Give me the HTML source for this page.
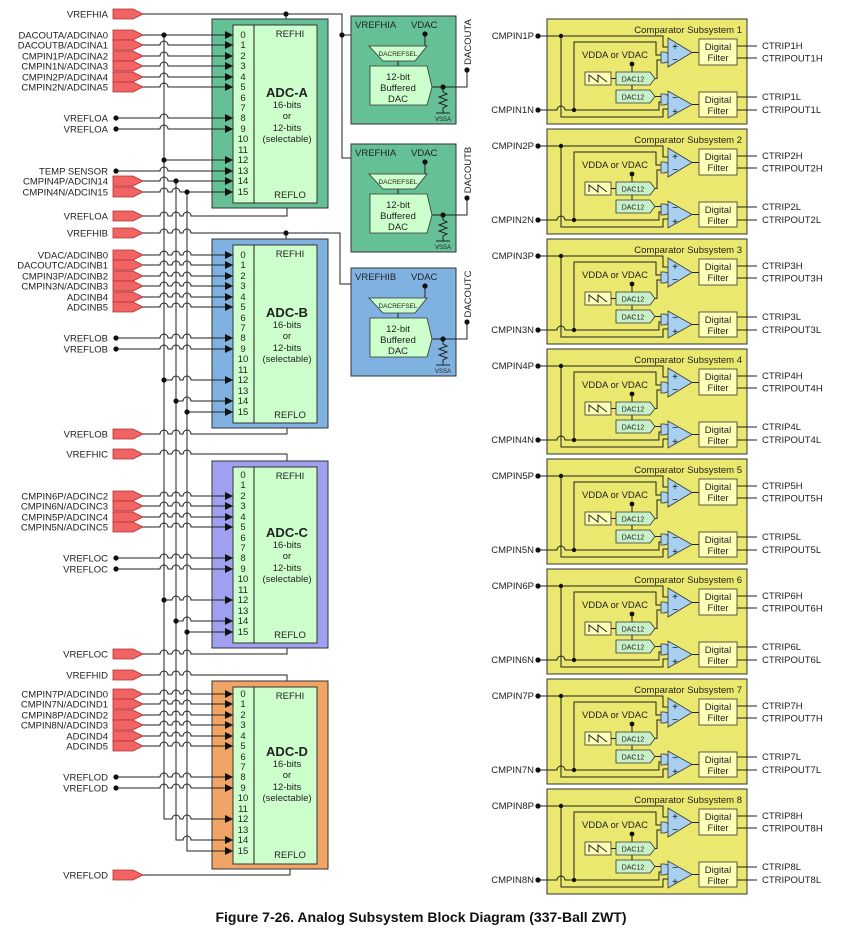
<!DOCTYPE html>
<html><head><meta charset="utf-8"><style>
html,body{margin:0;padding:0;background:#fff;}
svg{display:block;font-family:"Liberation Sans",Arial,sans-serif;}
.l{font-size:9.5px;fill:#222;text-anchor:end}
.n{font-size:9.5px;fill:#222;text-anchor:middle}
.t{font-size:9.5px;fill:#222}
.w{fill:none;stroke:#222;stroke-width:1}
</style></head><body>
<svg width="852" height="938" viewBox="0 0 852 938" xmlns="http://www.w3.org/2000/svg">
<defs>
<marker id="ar" viewBox="0 0 8 8" refX="8" refY="4" markerWidth="8" markerHeight="8" markerUnits="userSpaceOnUse" orient="auto"><path d="M0 0L8 4L0 8z" fill="#111"/></marker>
<polygon id="pin" points="113,-5 133,-5 143,0 133,5 113,5" fill="#f26363" stroke="#b03030" stroke-width="0.8"/>
<circle id="d" r="2.6" fill="#111"/>
<g id="cmp">
<rect x="547" y="19" width="200" height="105" fill="#ebe86f" stroke="#333"/>
<path class="w" d="M538 36H663V47H668M561 36V117H663V109H668M538 110H557a4,4 0 0 1 8,0H659V102H661M574 110V42H656V55H661M655 78.5H657V60H661M655 96.5H661M692 52.5H699M692 104.5H699M737 46H757M737 58H757M737 97H757M737 110H757M632 64V72M632 85V90M611 78.5H616"/>
<circle cx="538" cy="36" r="2.6" fill="#111"/><circle cx="561" cy="36" r="2.2" fill="#111"/>
<circle cx="538" cy="110" r="2.6" fill="#111"/><circle cx="574" cy="110" r="2.2" fill="#111"/>
<circle cx="632" cy="64" r="2.4" fill="#111"/>
<path d="M661 52H664a5.5,5.5 0 0 1 0,11H661Z" fill="#a8d0f0" stroke="#333" stroke-width="0.8"/>
<path d="M661 94H664a5.5,5.5 0 0 1 0,11H661Z" fill="#a8d0f0" stroke="#333" stroke-width="0.8"/>
<polygon points="668,38 668,67 692,52.5" fill="#a8d0f0" stroke="#333" stroke-width="0.8"/>
<polygon points="668,91 668,118 692,104.5" fill="#a8d0f0" stroke="#333" stroke-width="0.8"/>
<rect x="699" y="39" width="38" height="26" fill="#ffffb8" stroke="#333" stroke-width="0.8"/>
<rect x="699" y="92" width="38" height="25" fill="#ffffb8" stroke="#333" stroke-width="0.8"/>
<rect x="585" y="72" width="26" height="13" fill="#ffffb8" stroke="#333" stroke-width="0.8"/>
<path class="w" d="M589 82V75L598 82V75L607 82"/>
<polygon points="616,72 650,72 655,78.5 650,85 616,85" fill="#c8f0c8" stroke="#333" stroke-width="0.8"/>
<polygon points="616,90 650,90 655,96.5 650,103 616,103" fill="#c8f0c8" stroke="#333" stroke-width="0.8"/>
</g>
</defs>

<!-- ADC boxes -->
<rect x="212" y="19" width="116" height="189" fill="#66c095" stroke="#333"/>
<rect x="212" y="239" width="116" height="189" fill="#7fb2e0" stroke="#333"/>
<rect x="212" y="461" width="116" height="187" fill="#a0a0f0" stroke="#333"/>
<rect x="212" y="681" width="116" height="188" fill="#f0a465" stroke="#333"/>
<g fill="#ccffcc" stroke="#333">
<rect x="233" y="25" width="84" height="178"/><rect x="233" y="245" width="84" height="178"/>
<rect x="233" y="467" width="84" height="176"/><rect x="233" y="687" width="84" height="177"/>
</g>
<path class="w" d="M254 25V203M254 245V423M254 467V643M254 687V864"/>

<!-- ADC texts -->
<g class="n">
<text x="290" y="37">REFHI</text><text x="290" y="198">REFLO</text>
<text x="290" y="257">REFHI</text><text x="290" y="418">REFLO</text>
<text x="290" y="479">REFHI</text><text x="290" y="638">REFLO</text>
<text x="290" y="699">REFHI</text><text x="290" y="858">REFLO</text>
</g>
<g class="n">
<text x="287" y="97" style="font-size:13px;font-weight:bold">ADC-A</text><text x="287" y="108">16-bits</text><text x="287" y="119">or</text><text x="287" y="131">12-bits</text><text x="287" y="142">(selectable)</text>
<text x="287" y="317" style="font-size:13px;font-weight:bold">ADC-B</text><text x="287" y="328">16-bits</text><text x="287" y="339">or</text><text x="287" y="351">12-bits</text><text x="287" y="362">(selectable)</text>
<text x="287" y="537" style="font-size:13px;font-weight:bold">ADC-C</text><text x="287" y="548">16-bits</text><text x="287" y="559">or</text><text x="287" y="571">12-bits</text><text x="287" y="582">(selectable)</text>
<text x="287" y="756" style="font-size:13px;font-weight:bold">ADC-D</text><text x="287" y="767">16-bits</text><text x="287" y="778">or</text><text x="287" y="790">12-bits</text><text x="287" y="801">(selectable)</text>
</g>
<g class="n">
<text x="243" y="38">0</text><text x="243" y="48">1</text><text x="243" y="59">2</text><text x="243" y="69">3</text><text x="243" y="80">4</text><text x="243" y="90">5</text><text x="243" y="101">6</text><text x="243" y="111">7</text><text x="243" y="121">8</text><text x="243" y="132">9</text><text x="243" y="142">10</text><text x="243" y="153">11</text><text x="243" y="163">12</text><text x="243" y="174">13</text><text x="243" y="184">14</text><text x="243" y="195">15</text>
<text x="243" y="258">0</text><text x="243" y="268">1</text><text x="243" y="279">2</text><text x="243" y="289">3</text><text x="243" y="300">4</text><text x="243" y="310">5</text><text x="243" y="321">6</text><text x="243" y="331">7</text><text x="243" y="341">8</text><text x="243" y="352">9</text><text x="243" y="362">10</text><text x="243" y="373">11</text><text x="243" y="383">12</text><text x="243" y="394">13</text><text x="243" y="404">14</text><text x="243" y="415">15</text>
<text x="243" y="478">0</text><text x="243" y="488">1</text><text x="243" y="499">2</text><text x="243" y="509">3</text><text x="243" y="520">4</text><text x="243" y="530">5</text><text x="243" y="541">6</text><text x="243" y="551">7</text><text x="243" y="561">8</text><text x="243" y="572">9</text><text x="243" y="582">10</text><text x="243" y="593">11</text><text x="243" y="603">12</text><text x="243" y="614">13</text><text x="243" y="624">14</text><text x="243" y="635">15</text>
<text x="243" y="697">0</text><text x="243" y="707">1</text><text x="243" y="718">2</text><text x="243" y="728">3</text><text x="243" y="739">4</text><text x="243" y="749">5</text><text x="243" y="760">6</text><text x="243" y="770">7</text><text x="243" y="780">8</text><text x="243" y="791">9</text><text x="243" y="801">10</text><text x="243" y="812">11</text><text x="243" y="822">12</text><text x="243" y="833">13</text><text x="243" y="843">14</text><text x="243" y="854">15</text>
</g>

<!-- pins -->
<g>
<use href="#pin" y="14"/><use href="#pin" y="35"/><use href="#pin" y="45"/><use href="#pin" y="56"/><use href="#pin" y="66"/><use href="#pin" y="77"/><use href="#pin" y="87"/><use href="#pin" y="181"/><use href="#pin" y="192"/><use href="#pin" y="216"/>
<use href="#pin" y="233"/><use href="#pin" y="255"/><use href="#pin" y="265"/><use href="#pin" y="276"/><use href="#pin" y="286"/><use href="#pin" y="297"/><use href="#pin" y="307"/><use href="#pin" y="434"/>
<use href="#pin" y="454"/><use href="#pin" y="496"/><use href="#pin" y="506"/><use href="#pin" y="517"/><use href="#pin" y="527"/><use href="#pin" y="654"/>
<use href="#pin" y="675"/><use href="#pin" y="694"/><use href="#pin" y="704"/><use href="#pin" y="715"/><use href="#pin" y="725"/><use href="#pin" y="736"/><use href="#pin" y="746"/><use href="#pin" y="875"/>
</g>
<g class="l">
<text x="108" y="17.5">VREFHIA</text>
<text x="108" y="38.5">DACOUTA/ADCINA0</text><text x="108" y="48.5">DACOUTB/ADCINA1</text><text x="108" y="59.5">CMPIN1P/ADCINA2</text><text x="108" y="69.5">CMPIN1N/ADCINA3</text><text x="108" y="80.5">CMPIN2P/ADCINA4</text><text x="108" y="90.5">CMPIN2N/ADCINA5</text>
<text x="108" y="121.5">VREFLOA</text><text x="108" y="132.5">VREFLOA</text><text x="108" y="174.5">TEMP SENSOR</text>
<text x="108" y="184.5">CMPIN4P/ADCIN14</text><text x="108" y="195.5">CMPIN4N/ADCIN15</text><text x="108" y="219.5">VREFLOA</text>
<text x="108" y="236.5">VREFHIB</text>
<text x="108" y="258.5">VDAC/ADCINB0</text><text x="108" y="268.5">DACOUTC/ADCINB1</text><text x="108" y="279.5">CMPIN3P/ADCINB2</text><text x="108" y="289.5">CMPIN3N/ADCINB3</text><text x="108" y="300.5">ADCINB4</text><text x="108" y="310.5">ADCINB5</text>
<text x="108" y="341.5">VREFLOB</text><text x="108" y="352.5">VREFLOB</text><text x="108" y="437.5">VREFLOB</text>
<text x="108" y="457.5">VREFHIC</text>
<text x="108" y="499.5">CMPIN6P/ADCINC2</text><text x="108" y="509.5">CMPIN6N/ADCINC3</text><text x="108" y="520.5">CMPIN5P/ADCINC4</text><text x="108" y="530.5">CMPIN5N/ADCINC5</text>
<text x="108" y="561.5">VREFLOC</text><text x="108" y="572.5">VREFLOC</text><text x="108" y="657.5">VREFLOC</text>
<text x="108" y="678.5">VREFHID</text>
<text x="108" y="697.5">CMPIN7P/ADCIND0</text><text x="108" y="707.5">CMPIN7N/ADCIND1</text><text x="108" y="718.5">CMPIN8P/ADCIND2</text><text x="108" y="728.5">CMPIN8N/ADCIND3</text><text x="108" y="739.5">ADCIND4</text><text x="108" y="749.5">ADCIND5</text>
<text x="108" y="780.5">VREFLOD</text><text x="108" y="791.5">VREFLOD</text><text x="108" y="878.5">VREFLOD</text>
</g>

<!-- wires with arrows -->
<g class="w" marker-end="url(#ar)">
<path d="M143 35H233"/>
<path d="M143 45H160a4,4 0 0 1 8,0H233"/><path d="M143 56H160a4,4 0 0 1 8,0H233"/><path d="M143 66H160a4,4 0 0 1 8,0H233"/><path d="M143 77H160a4,4 0 0 1 8,0H233"/><path d="M143 87H160a4,4 0 0 1 8,0H233"/>
<path d="M116 118H160a4,4 0 0 1 8,0H233"/><path d="M116 129H160a4,4 0 0 1 8,0H233"/>
<path d="M164 160H233"/><path d="M116 171H160a4,4 0 0 1 8,0H233"/>
<path d="M143 181H160a4,4 0 0 1 8,0H233"/><path d="M143 192H160a4,4 0 0 1 8,0H172a4,4 0 0 1 8,0H233"/>

<path d="M143 255H160a4,4 0 0 1 8,0H172a4,4 0 0 1 8,0H183a4,4 0 0 1 8,0H233"/>
<path d="M143 265H160a4,4 0 0 1 8,0H172a4,4 0 0 1 8,0H183a4,4 0 0 1 8,0H233"/>
<path d="M143 276H160a4,4 0 0 1 8,0H172a4,4 0 0 1 8,0H183a4,4 0 0 1 8,0H233"/>
<path d="M143 286H160a4,4 0 0 1 8,0H172a4,4 0 0 1 8,0H183a4,4 0 0 1 8,0H233"/>
<path d="M143 297H160a4,4 0 0 1 8,0H172a4,4 0 0 1 8,0H183a4,4 0 0 1 8,0H233"/>
<path d="M143 307H160a4,4 0 0 1 8,0H172a4,4 0 0 1 8,0H183a4,4 0 0 1 8,0H233"/>
<path d="M116 338H160a4,4 0 0 1 8,0H172a4,4 0 0 1 8,0H183a4,4 0 0 1 8,0H233"/>
<path d="M116 349H160a4,4 0 0 1 8,0H172a4,4 0 0 1 8,0H183a4,4 0 0 1 8,0H233"/>
<path d="M164 380H172a4,4 0 0 1 8,0H183a4,4 0 0 1 8,0H233"/>
<path d="M176 401H183a4,4 0 0 1 8,0H233"/><path d="M187 412H233"/>

<path d="M143 496H160a4,4 0 0 1 8,0H172a4,4 0 0 1 8,0H183a4,4 0 0 1 8,0H233"/>
<path d="M143 506H160a4,4 0 0 1 8,0H172a4,4 0 0 1 8,0H183a4,4 0 0 1 8,0H233"/>
<path d="M143 517H160a4,4 0 0 1 8,0H172a4,4 0 0 1 8,0H183a4,4 0 0 1 8,0H233"/>
<path d="M143 527H160a4,4 0 0 1 8,0H172a4,4 0 0 1 8,0H183a4,4 0 0 1 8,0H233"/>
<path d="M116 558H160a4,4 0 0 1 8,0H172a4,4 0 0 1 8,0H183a4,4 0 0 1 8,0H233"/>
<path d="M116 569H160a4,4 0 0 1 8,0H172a4,4 0 0 1 8,0H183a4,4 0 0 1 8,0H233"/>
<path d="M164 600H172a4,4 0 0 1 8,0H183a4,4 0 0 1 8,0H233"/>
<path d="M176 621H183a4,4 0 0 1 8,0H233"/><path d="M187 632H233"/>

<path d="M143 694H160a4,4 0 0 1 8,0H172a4,4 0 0 1 8,0H183a4,4 0 0 1 8,0H233"/>
<path d="M143 704H160a4,4 0 0 1 8,0H172a4,4 0 0 1 8,0H183a4,4 0 0 1 8,0H233"/>
<path d="M143 715H160a4,4 0 0 1 8,0H172a4,4 0 0 1 8,0H183a4,4 0 0 1 8,0H233"/>
<path d="M143 725H160a4,4 0 0 1 8,0H172a4,4 0 0 1 8,0H183a4,4 0 0 1 8,0H233"/>
<path d="M143 736H160a4,4 0 0 1 8,0H172a4,4 0 0 1 8,0H183a4,4 0 0 1 8,0H233"/>
<path d="M143 746H160a4,4 0 0 1 8,0H172a4,4 0 0 1 8,0H183a4,4 0 0 1 8,0H233"/>
<path d="M116 777H160a4,4 0 0 1 8,0H172a4,4 0 0 1 8,0H183a4,4 0 0 1 8,0H233"/>
<path d="M116 788H160a4,4 0 0 1 8,0H172a4,4 0 0 1 8,0H183a4,4 0 0 1 8,0H233"/>
<path d="M164 35V819H172a4,4 0 0 1 8,0H183a4,4 0 0 1 8,0H233"/>
<path d="M176 181V840H183a4,4 0 0 1 8,0H233"/>
<path d="M187 192V851H233"/>
</g>
<!-- ref wires -->
<g class="w">
<path d="M143 14H342V158H385V174M286 14V19M342 35H385V46"/>
<path d="M143 216H160a4,4 0 0 1 8,0H172a4,4 0 0 1 8,0H183a4,4 0 0 1 8,0H287V208"/>
<path d="M143 233H160a4,4 0 0 1 8,0H172a4,4 0 0 1 8,0H183a4,4 0 0 1 8,0H340V284H385V298M286 233V239"/>
<path d="M143 434H160a4,4 0 0 1 8,0H172a4,4 0 0 1 8,0H183a4,4 0 0 1 8,0H287V428"/>
<path d="M143 454H160a4,4 0 0 1 8,0H172a4,4 0 0 1 8,0H183a4,4 0 0 1 8,0H287V461"/>
<path d="M143 654H160a4,4 0 0 1 8,0H172a4,4 0 0 1 8,0H183a4,4 0 0 1 8,0H287V648"/>
<path d="M143 675H160a4,4 0 0 1 8,0H172a4,4 0 0 1 8,0H183a4,4 0 0 1 8,0H287V681"/>
<path d="M143 875H290V869"/>
</g>
<g>
<use href="#d" x="164" y="35"/><use href="#d" x="116" y="118"/><use href="#d" x="116" y="129"/><use href="#d" x="164" y="160"/><use href="#d" x="116" y="171"/><use href="#d" x="176" y="181"/><use href="#d" x="187" y="192"/>
<use href="#d" x="116" y="338"/><use href="#d" x="116" y="349"/><use href="#d" x="164" y="380"/><use href="#d" x="176" y="401"/><use href="#d" x="187" y="412"/>
<use href="#d" x="116" y="558"/><use href="#d" x="116" y="569"/><use href="#d" x="164" y="600"/><use href="#d" x="176" y="621"/><use href="#d" x="187" y="632"/>
<use href="#d" x="116" y="777"/><use href="#d" x="116" y="788"/>
<use href="#d" x="286" y="14"/><use href="#d" x="342" y="35"/><use href="#d" x="286" y="233"/>
</g>

<!-- DACs -->
<g id="dacA">
<rect x="351" y="16" width="105" height="108" fill="#66c095" stroke="#333"/>
<text class="t" x="355" y="28">VREFHIA</text><text class="t" x="411" y="28">VDAC</text>
<path class="w" d="M425 34V46M398 61V66M432 87H467V70M443 87V92l4 2l-8 3l8 3l-8 3l8 3l-4 2V113M436 113H450"/>
<circle cx="425" cy="34" r="2.6" fill="#111"/><circle cx="443" cy="87" r="2.6" fill="#111"/><circle cx="467" cy="70" r="2.6" fill="#111"/>
<polygon points="369,46 427,46 415,61 383,61" fill="#ccffcc" stroke="#333" stroke-width="0.8"/>
<text x="398" y="56" text-anchor="middle" style="font-size:6.5px" fill="#222">DACREFSEL</text>
<polygon points="370,66 427,66 432,87 427,105 370,105" fill="#ccffcc" stroke="#333" stroke-width="0.8"/>
<text class="n" x="398" y="80">12-bit</text><text class="n" x="398" y="91">Buffered</text><text class="n" x="398" y="102">DAC</text>
<text x="443" y="121" text-anchor="middle" style="font-size:6px" fill="#222">VSSA</text>
<text class="n" x="471" y="42" transform="rotate(-90 471 42)">DACOUTA</text>
</g>
<g transform="translate(0,128)">
<rect x="351" y="16" width="105" height="108" fill="#66c095" stroke="#333"/>
<text class="t" x="355" y="28">VREFHIA</text><text class="t" x="411" y="28">VDAC</text>
<path class="w" d="M425 34V46M398 61V66M432 87H467V70M443 87V92l4 2l-8 3l8 3l-8 3l8 3l-4 2V113M436 113H450"/>
<circle cx="425" cy="34" r="2.6" fill="#111"/><circle cx="443" cy="87" r="2.6" fill="#111"/><circle cx="467" cy="70" r="2.6" fill="#111"/>
<polygon points="369,46 427,46 415,61 383,61" fill="#ccffcc" stroke="#333" stroke-width="0.8"/>
<text x="398" y="56" text-anchor="middle" style="font-size:6.5px" fill="#222">DACREFSEL</text>
<polygon points="370,66 427,66 432,87 427,105 370,105" fill="#ccffcc" stroke="#333" stroke-width="0.8"/>
<text class="n" x="398" y="80">12-bit</text><text class="n" x="398" y="91">Buffered</text><text class="n" x="398" y="102">DAC</text>
<text x="443" y="121" text-anchor="middle" style="font-size:6px" fill="#222">VSSA</text>
<text class="n" x="471" y="42" transform="rotate(-90 471 42)">DACOUTB</text>
</g>
<g transform="translate(0,252)">
<rect x="351" y="16" width="105" height="108" fill="#7fb2e0" stroke="#333"/>
<text class="t" x="355" y="28">VREFHIB</text><text class="t" x="411" y="28">VDAC</text>
<path class="w" d="M425 34V46M398 61V66M432 87H467V70M443 87V92l4 2l-8 3l8 3l-8 3l8 3l-4 2V113M436 113H450"/>
<circle cx="425" cy="34" r="2.6" fill="#111"/><circle cx="443" cy="87" r="2.6" fill="#111"/><circle cx="467" cy="70" r="2.6" fill="#111"/>
<polygon points="369,46 427,46 415,61 383,61" fill="#ccffcc" stroke="#333" stroke-width="0.8"/>
<text x="398" y="56" text-anchor="middle" style="font-size:6.5px" fill="#222">DACREFSEL</text>
<polygon points="370,66 427,66 432,87 427,105 370,105" fill="#ccffcc" stroke="#333" stroke-width="0.8"/>
<text class="n" x="398" y="80">12-bit</text><text class="n" x="398" y="91">Buffered</text><text class="n" x="398" y="102">DAC</text>
<text x="443" y="121" text-anchor="middle" style="font-size:6px" fill="#222">VSSA</text>
<text class="n" x="471" y="42" transform="rotate(-90 471 42)">DACOUTC</text>
</g>

<!-- Comparator subsystems -->
<g>
<use href="#cmp"/>
<text class="l" x="742" y="33">Comparator Subsystem 1</text>
<text class="l" x="534" y="39">CMPIN1P</text><text class="l" x="534" y="113">CMPIN1N</text>
<text class="n" x="615" y="58">VDDA or VDAC</text>
<text class="n" x="633" y="81.5" style="font-size:7px">DAC12</text><text class="n" x="633" y="99.5" style="font-size:7px">DAC12</text>
<text class="n" x="718" y="50">Digital</text><text class="n" x="718" y="61">Filter</text><text class="n" x="718" y="103">Digital</text><text class="n" x="718" y="114">Filter</text>
<text class="t" x="762" y="49">CTRIP1H</text><text class="t" x="762" y="61.5">CTRIPOUT1H</text><text class="t" x="762" y="100">CTRIP1L</text><text class="t" x="762" y="113">CTRIPOUT1L</text>
</g>
<g transform="translate(0,110)">
<use href="#cmp"/>
<text class="l" x="742" y="33">Comparator Subsystem 2</text>
<text class="l" x="534" y="39">CMPIN2P</text><text class="l" x="534" y="113">CMPIN2N</text>
<text class="n" x="615" y="58">VDDA or VDAC</text>
<text class="n" x="633" y="81.5" style="font-size:7px">DAC12</text><text class="n" x="633" y="99.5" style="font-size:7px">DAC12</text>
<text class="n" x="718" y="50">Digital</text><text class="n" x="718" y="61">Filter</text><text class="n" x="718" y="103">Digital</text><text class="n" x="718" y="114">Filter</text>
<text class="t" x="762" y="49">CTRIP2H</text><text class="t" x="762" y="61.5">CTRIPOUT2H</text><text class="t" x="762" y="100">CTRIP2L</text><text class="t" x="762" y="113">CTRIPOUT2L</text>
</g>
<g transform="translate(0,220)">
<use href="#cmp"/>
<text class="l" x="742" y="33">Comparator Subsystem 3</text>
<text class="l" x="534" y="39">CMPIN3P</text><text class="l" x="534" y="113">CMPIN3N</text>
<text class="n" x="615" y="58">VDDA or VDAC</text>
<text class="n" x="633" y="81.5" style="font-size:7px">DAC12</text><text class="n" x="633" y="99.5" style="font-size:7px">DAC12</text>
<text class="n" x="718" y="50">Digital</text><text class="n" x="718" y="61">Filter</text><text class="n" x="718" y="103">Digital</text><text class="n" x="718" y="114">Filter</text>
<text class="t" x="762" y="49">CTRIP3H</text><text class="t" x="762" y="61.5">CTRIPOUT3H</text><text class="t" x="762" y="100">CTRIP3L</text><text class="t" x="762" y="113">CTRIPOUT3L</text>
</g>
<g transform="translate(0,330)">
<use href="#cmp"/>
<text class="l" x="742" y="33">Comparator Subsystem 4</text>
<text class="l" x="534" y="39">CMPIN4P</text><text class="l" x="534" y="113">CMPIN4N</text>
<text class="n" x="615" y="58">VDDA or VDAC</text>
<text class="n" x="633" y="81.5" style="font-size:7px">DAC12</text><text class="n" x="633" y="99.5" style="font-size:7px">DAC12</text>
<text class="n" x="718" y="50">Digital</text><text class="n" x="718" y="61">Filter</text><text class="n" x="718" y="103">Digital</text><text class="n" x="718" y="114">Filter</text>
<text class="t" x="762" y="49">CTRIP4H</text><text class="t" x="762" y="61.5">CTRIPOUT4H</text><text class="t" x="762" y="100">CTRIP4L</text><text class="t" x="762" y="113">CTRIPOUT4L</text>
</g>
<g transform="translate(0,440)">
<use href="#cmp"/>
<text class="l" x="742" y="33">Comparator Subsystem 5</text>
<text class="l" x="534" y="39">CMPIN5P</text><text class="l" x="534" y="113">CMPIN5N</text>
<text class="n" x="615" y="58">VDDA or VDAC</text>
<text class="n" x="633" y="81.5" style="font-size:7px">DAC12</text><text class="n" x="633" y="99.5" style="font-size:7px">DAC12</text>
<text class="n" x="718" y="50">Digital</text><text class="n" x="718" y="61">Filter</text><text class="n" x="718" y="103">Digital</text><text class="n" x="718" y="114">Filter</text>
<text class="t" x="762" y="49">CTRIP5H</text><text class="t" x="762" y="61.5">CTRIPOUT5H</text><text class="t" x="762" y="100">CTRIP5L</text><text class="t" x="762" y="113">CTRIPOUT5L</text>
</g>
<g transform="translate(0,550)">
<use href="#cmp"/>
<text class="l" x="742" y="33">Comparator Subsystem 6</text>
<text class="l" x="534" y="39">CMPIN6P</text><text class="l" x="534" y="113">CMPIN6N</text>
<text class="n" x="615" y="58">VDDA or VDAC</text>
<text class="n" x="633" y="81.5" style="font-size:7px">DAC12</text><text class="n" x="633" y="99.5" style="font-size:7px">DAC12</text>
<text class="n" x="718" y="50">Digital</text><text class="n" x="718" y="61">Filter</text><text class="n" x="718" y="103">Digital</text><text class="n" x="718" y="114">Filter</text>
<text class="t" x="762" y="49">CTRIP6H</text><text class="t" x="762" y="61.5">CTRIPOUT6H</text><text class="t" x="762" y="100">CTRIP6L</text><text class="t" x="762" y="113">CTRIPOUT6L</text>
</g>
<g transform="translate(0,660)">
<use href="#cmp"/>
<text class="l" x="742" y="33">Comparator Subsystem 7</text>
<text class="l" x="534" y="39">CMPIN7P</text><text class="l" x="534" y="113">CMPIN7N</text>
<text class="n" x="615" y="58">VDDA or VDAC</text>
<text class="n" x="633" y="81.5" style="font-size:7px">DAC12</text><text class="n" x="633" y="99.5" style="font-size:7px">DAC12</text>
<text class="n" x="718" y="50">Digital</text><text class="n" x="718" y="61">Filter</text><text class="n" x="718" y="103">Digital</text><text class="n" x="718" y="114">Filter</text>
<text class="t" x="762" y="49">CTRIP7H</text><text class="t" x="762" y="61.5">CTRIPOUT7H</text><text class="t" x="762" y="100">CTRIP7L</text><text class="t" x="762" y="113">CTRIPOUT7L</text>
</g>
<g transform="translate(0,770)">
<use href="#cmp"/>
<text class="l" x="742" y="33">Comparator Subsystem 8</text>
<text class="l" x="534" y="39">CMPIN8P</text><text class="l" x="534" y="113">CMPIN8N</text>
<text class="n" x="615" y="58">VDDA or VDAC</text>
<text class="n" x="633" y="81.5" style="font-size:7px">DAC12</text><text class="n" x="633" y="99.5" style="font-size:7px">DAC12</text>
<text class="n" x="718" y="50">Digital</text><text class="n" x="718" y="61">Filter</text><text class="n" x="718" y="103">Digital</text><text class="n" x="718" y="114">Filter</text>
<text class="t" x="762" y="49">CTRIP8H</text><text class="t" x="762" y="61.5">CTRIPOUT8H</text><text class="t" x="762" y="100">CTRIP8L</text><text class="t" x="762" y="113">CTRIPOUT8L</text>
</g>
<!-- comparator +/- signs -->
<g style="font-size:10px" fill="#111" text-anchor="middle">
<text x="675" y="50">+</text><text x="675" y="63">−</text><text x="675" y="101">−</text><text x="675" y="115">+</text>
<text x="675" y="160">+</text><text x="675" y="173">−</text><text x="675" y="211">−</text><text x="675" y="225">+</text>
<text x="675" y="270">+</text><text x="675" y="283">−</text><text x="675" y="321">−</text><text x="675" y="335">+</text>
<text x="675" y="380">+</text><text x="675" y="393">−</text><text x="675" y="431">−</text><text x="675" y="445">+</text>
<text x="675" y="490">+</text><text x="675" y="503">−</text><text x="675" y="541">−</text><text x="675" y="555">+</text>
<text x="675" y="600">+</text><text x="675" y="613">−</text><text x="675" y="651">−</text><text x="675" y="665">+</text>
<text x="675" y="710">+</text><text x="675" y="723">−</text><text x="675" y="761">−</text><text x="675" y="775">+</text>
<text x="675" y="820">+</text><text x="675" y="833">−</text><text x="675" y="871">−</text><text x="675" y="885">+</text>
</g>

<text x="421" y="922" text-anchor="middle" style="font-size:14px;font-weight:bold" fill="#111">Figure 7-26. Analog Subsystem Block Diagram (337-Ball ZWT)</text>
</svg>
</body></html>
